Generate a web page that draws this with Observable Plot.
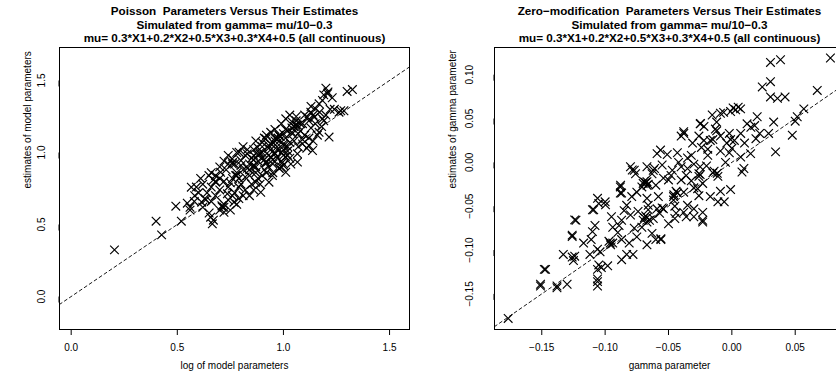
<!DOCTYPE html>
<html>
<head>
<meta charset="utf-8">
<script src="https://cdn.jsdelivr.net/npm/d3@7"></script>
<script src="https://cdn.jsdelivr.net/npm/@observablehq/plot@0.6"></script>
<style>
  body { margin: 0; background: #fff; }
  #wrap { position: relative; width: 836px; height: 375px; overflow: hidden; background: #fff; }
  #wrap > svg { position: absolute; top: 0; }
</style>
</head>
<body>
<div id="wrap"></div>
<script>
// ---------- Left panel: Poisson parameters ----------
const poissonTitle = ["Poisson  Parameters Versus Their Estimates",
  "Simulated from gamma= mu/10\u22120.3",
  "mu= 0.3*X1+0.2*X2+0.5*X3+0.3*X4+0.5 (all continuous)"];
const poissonXLabel = "log of model parameters";
const poissonYLabel = "estimates of model parameters";
const poissonXTicks = [0, 0.5, 1.0, 1.5];
const poissonYTicks = [0, 0.5, 1.0, 1.5];
const poissonX = [0.204,0.40,0.426,0.519,0.493,0.547,0.56,0.566,0.582,0.615,0.634,0.657,0.665,0.67,0.712,0.72,0.767,0.649,0.681,0.704,0.736,0.75,0.78,0.80,0.83,0.86,0.877,
  1.325,1.30,1.20,1.208,1.184,1.262,1.285,1.168,1.152,1.129,1.113,1.145,1.011,1.042,1.066,1.09,1.184,1.215,1.168,1.13,1.042,0.979,0.96,0.917,0.90,1.003,1.09,1.12,1.137,1.066,1.066,1.035,1.011,0.98,0.948,0.932,0.893,0.791,0.83,0.86,0.89,0.759,0.74,0.80,0.83,0.86,0.775,0.82,0.869,0.79,0.759,0.74,0.90,0.915,0.95,0.96,0.93,1.02,0.995,
  0.62,0.64,0.66,0.68,0.70,0.72,0.74,0.70,0.66,0.73,0.76,0.78,0.80,0.82,0.84,0.77,0.79,0.85,0.88,0.87,0.91,0.93,0.95,0.97,1.00,1.02,0.98,0.94,0.92,0.96,0.99,1.03,1.06,1.08,1.10,1.05,1.00,0.99,1.03,0.96,0.88,0.85,0.82,0.76,0.72,0.70,0.68,0.60,0.58,0.56,0.62,0.65,0.72,0.75,0.84,0.90,0.93,1.01,1.04,1.07,1.12,1.15,1.18,1.20,1.22,1.17,1.13,1.10,0.98,0.90,0.86,0.94,0.97,1.00,1.02,0.95,0.92,0.89,0.86,0.81,0.78,0.70,0.66,0.63,0.59,0.61,0.74,0.78,0.81,0.87,0.91,0.94,1.01,1.05,1.08,1.09,1.11,1.14,1.16,1.19,1.24,1.27,1.23,1.21,1.19,
  0.97,0.975,0.96,0.985,0.99,0.98,1.00,0.89,0.90,0.88,1.05,1.04,1.06,0.67,0.68,0.72,0.71,0.77,0.76,1.00,1.02,0.93,0.95,0.86,0.84,0.91,0.94,1.03,1.07,0.97,0.81,0.79,0.84,0.87,1.12,1.14,1.06,0.99,1.01,0.92];
const poissonY = [0.324,0.523,0.428,0.523,0.627,0.648,0.62,0.759,0.70,0.655,0.671,0.551,0.505,0.53,0.62,0.585,0.655,0.84,0.794,0.863,0.713,0.79,0.84,0.944,0.99,0.90,1.037,
  1.437,1.424,1.447,1.408,1.361,1.28,1.29,1.338,1.303,1.28,1.245,1.245,1.234,1.21,1.19,1.20,1.234,1.107,1.14,1.17,1.13,1.118,1.10,1.095,1.07,1.049,1.06,1.05,1.014,0.991,0.933,0.92,0.863,0.89,0.84,0.794,0.724,1.002,1.02,0.98,1.00,0.956,0.92,0.91,0.89,0.91,0.84,0.83,0.794,0.76,0.70,0.67,0.84,0.93,0.95,0.995,1.03,0.98,0.93,
  0.78,0.72,0.76,0.70,0.74,0.80,0.76,0.82,0.86,0.88,0.82,0.86,0.78,0.74,0.70,0.72,0.68,0.78,0.82,0.86,0.88,0.90,0.86,0.96,0.98,1.04,1.08,1.06,1.12,1.16,1.20,1.26,1.22,1.15,1.12,1.08,1.02,0.94,0.96,0.99,0.94,0.96,0.98,0.92,0.94,0.90,0.84,0.72,0.66,0.60,0.62,0.58,0.64,0.60,0.88,0.96,0.98,1.10,1.14,1.04,1.10,1.20,1.18,1.26,1.30,1.28,1.32,1.26,1.12,1.04,1.02,1.02,1.04,1.06,1.01,0.92,0.86,0.78,0.74,0.70,0.64,0.60,0.66,0.68,0.76,0.82,0.98,1.00,1.04,1.08,1.10,1.14,1.16,1.18,1.20,1.09,1.03,1.08,1.12,1.22,1.30,1.29,1.38,1.42,1.40,
  1.09,1.10,1.08,1.11,0.90,0.89,0.91,0.99,1.00,0.98,1.18,1.17,1.19,0.81,0.80,0.62,0.63,0.92,0.93,1.13,1.15,1.05,1.07,0.95,0.92,0.95,0.97,1.07,1.13,1.02,0.88,0.82,0.84,0.90,1.22,1.26,1.25,1.00,0.97,0.93];

// ---------- Right panel: gamma (zero-modification) parameters ----------
const gammaTitle = ["Zero\u2212modification  Parameters Versus Their Estimates",
  "Simulated from gamma= mu/10\u22120.3",
  "mu= 0.3*X1+0.2*X2+0.5*X3+0.3*X4+0.5 (all continuous)"];
const gammaXLabel = "gamma parameter";
const gammaYLabel = "estimates of gamma parameter";
const gammaXTicks = [-0.15, -0.10, -0.05, 0.00, 0.05];
const gammaYTicks = [-0.15, -0.10, -0.05, 0.00, 0.05, 0.10];
const gammaX = [0.0778,0.0305,0.0384,0.0305,0.024,0.0305,0.036,0.042,0.0674,0.0568,0.0516,0.050,0.0477,0.0345,0.033,0.029,0.020,0.0069,0.003,-0.001,-0.0065,-0.0155,-0.0247,-0.022,-0.012,0.012,0.015,0.018,0.022,0.019,0.0148,0.007,-0.002,-0.001,0.002,-0.004,-0.009,-0.015,-0.022,-0.026,-0.0379,-0.040,-0.031,-0.024,-0.019,-0.009,-0.002,0.007,0.0095,0.008,-0.001,-0.014,-0.011,-0.019,-0.032,-0.043,-0.051,-0.0563,-0.059,-0.067,-0.062,-0.0694,-0.067,-0.060,-0.054,-0.047,-0.040,-0.035,-0.030,-0.025,-0.026,-0.032,-0.030,-0.026,-0.0458,-0.046,-0.038,-0.035,-0.030,-0.023,-0.023,-0.038,-0.045,-0.054,-0.057,-0.059,-0.062,-0.067,-0.071,-0.066,-0.009,-0.011,-0.017,
  -0.1765,-0.151,-0.147,-0.138,-0.130,-0.106,-0.106,-0.126,-0.124,-0.133,-0.125,-0.124,-0.117,-0.111,-0.112,-0.106,-0.104,-0.105,-0.103,-0.098,-0.0957,-0.094,-0.087,-0.083,-0.078,-0.087,-0.081,-0.110,-0.108,-0.109,-0.105,-0.100,-0.095,-0.094,-0.089,-0.087,-0.0878,-0.087,-0.083,-0.0786,-0.076,-0.079,-0.075,-0.071,-0.067,-0.063,-0.061,-0.055,-0.067,-0.066,-0.074,-0.070,-0.065,-0.063,-0.060,-0.067,-0.077,-0.055,-0.058,
  -0.080,-0.077,-0.088,-0.088,-0.0997,-0.106,-0.110,-0.123,-0.126,-0.126,-0.148,-0.151,-0.138,-0.106,-0.106,-0.046,-0.025,-0.038,-0.009,0.001,0.005,-0.017,-0.0115,-0.023,-0.027,-0.006,-0.023,-0.030,-0.036,-0.044,-0.056,-0.067,-0.070,
  -0.066,-0.068,-0.043,-0.044,-0.025,-0.026,-0.068,-0.069,-0.096,-0.097,-0.056,-0.015,-0.012,-0.013,-0.050,-0.048,-0.040,-0.036,-0.042,-0.035,-0.020,-0.005,0.000,0.010,-0.085,-0.080,-0.090,-0.075,-0.050,-0.045];
const gammaY = [0.119,0.114,0.117,0.092,0.086,0.0746,0.073,0.0746,0.082,0.061,0.052,0.047,0.031,0.012,0.046,0.033,0.052,0.061,0.060,0.058,0.057,0.054,0.0443,0.041,0.046,0.044,0.040,0.042,0.033,0.027,0.010,0.033,0.033,0.026,0.025,0.022,0.030,0.026,0.025,0.030,0.033,0.030,0.022,0.017,0.015,0.013,0.011,0.006,-0.007,-0.011,-0.031,-0.010,-0.016,0.008,0.008,0.011,0.009,0.014,0.010,-0.005,-0.009,-0.022,-0.026,-0.026,-0.018,-0.009,-0.005,-0.007,-0.002,-0.005,-0.013,-0.021,-0.029,-0.038,-0.037,-0.043,-0.034,-0.049,-0.053,-0.057,-0.066,-0.057,-0.064,-0.053,-0.058,-0.053,-0.064,-0.068,-0.074,-0.049,-0.033,-0.045,-0.039,
  -0.178,-0.139,-0.122,-0.143,-0.139,-0.136,-0.141,-0.0845,-0.0656,-0.105,-0.112,-0.107,-0.092,-0.088,-0.105,-0.099,-0.102,-0.117,-0.120,-0.118,-0.094,-0.092,-0.111,-0.105,-0.105,-0.088,-0.092,-0.079,-0.072,-0.054,-0.047,-0.045,-0.062,-0.074,-0.072,-0.066,-0.026,-0.035,-0.049,-0.0087,-0.013,-0.039,-0.034,-0.028,-0.022,-0.013,-0.007,-0.003,-0.041,-0.054,-0.056,-0.066,-0.066,-0.081,-0.088,-0.094,-0.075,-0.052,-0.039,
  -0.005,-0.009,-0.028,-0.035,-0.0485,-0.041,-0.054,-0.066,-0.083,-0.108,-0.122,-0.141,-0.141,-0.122,-0.133,-0.039,0.044,0.035,0.056,0.062,0.063,0.025,-0.0125,-0.024,-0.030,-0.045,-0.068,-0.062,-0.062,-0.058,-0.088,-0.063,-0.024,
  -0.025,-0.023,-0.035,-0.033,-0.014,-0.016,-0.061,-0.063,-0.092,-0.090,-0.087,-0.012,0.036,0.038,-0.020,-0.015,-0.020,-0.015,0.000,0.005,-0.004,0.000,0.016,0.022,-0.055,-0.060,-0.080,-0.085,-0.070,-0.050];

const FONT = "Liberation Sans, Arial, Helvetica, sans-serif";

function panel(cfg) {
  const pts = cfg.xs.map((x, i) => ({x, y: cfg.ys[i]}));
  const diag = cfg.xDomain; // y = x reference line across the x domain
  const marks = [
    Plot.line(diag, {x: d => d, y: d => d, stroke: "#000", strokeWidth: 0.9, strokeDasharray: "3,3", clip: true}),
    Plot.dot(pts, {x: "x", y: "y", symbol: "times", r: 4, stroke: "#000", strokeWidth: 1.15}),
    Plot.frame({stroke: "#000", strokeWidth: 1}),
    Plot.axisX({ticks: cfg.xTicks, tickFormat: d3.format(cfg.xFmt), tickSize: 6, tickPadding: 8, label: null, fontSize: 10}),
    Plot.axisY({ticks: cfg.yTicks, tickFormat: d3.format(cfg.yFmt), tickSize: 6, tickPadding: cfg.yPad, label: null,
                rotate: -90, textAnchor: "middle", lineAnchor: "bottom", fontSize: 10}),
    Plot.text([cfg.xLabel], {text: d => d, frameAnchor: "bottom", dy: 39, fontSize: 10}),
    Plot.text([cfg.yLabel], {text: d => d, frameAnchor: "left", dx: cfg.yLabelDx, rotate: -90, fontSize: 10}),
    ...cfg.title.map((t, i) => Plot.text([t], {text: d => d, frameAnchor: "top", dy: [-41, -27, -14][i], fontSize: 11.7, fontWeight: "bold"}))
  ];
  const svg = Plot.plot({
    width: cfg.width, height: 375,
    marginLeft: cfg.ml, marginRight: cfg.mr, marginTop: 47, marginBottom: 46,
    style: {fontFamily: FONT, background: "#fff", color: "#000", overflow: "visible"},
    x: {domain: cfg.xDomain},
    y: {domain: cfg.yDomain},
    marks
  });
  svg.style.left = cfg.left + "px";
  return svg;
}

const wrap = document.getElementById("wrap");
wrap.appendChild(panel({
  xs: poissonX, ys: poissonY, title: poissonTitle, xLabel: poissonXLabel, yLabel: poissonYLabel,
  xTicks: poissonXTicks, yTicks: poissonYTicks, xFmt: ".1f", yFmt: ".1f",
  xDomain: [-0.055, 1.594], yDomain: [-0.229, 1.729],
  width: 418, ml: 59, mr: 9, left: 0, yPad: 8.5, yLabelDx: -32
}));
wrap.appendChild(panel({
  xs: gammaX, ys: gammaY, title: gammaTitle, xLabel: gammaXLabel, yLabel: gammaYLabel,
  xTicks: gammaXTicks, yTicks: gammaYTicks, xFmt: ".2f", yFmt: ".2f",
  xDomain: [-0.1873, 0.0889], yDomain: [-0.1906, 0.131],
  width: 426, ml: 76, mr: 0, left: 418, yPad: 16, yLabelDx: -42
}));
</script>
</body>
</html>
